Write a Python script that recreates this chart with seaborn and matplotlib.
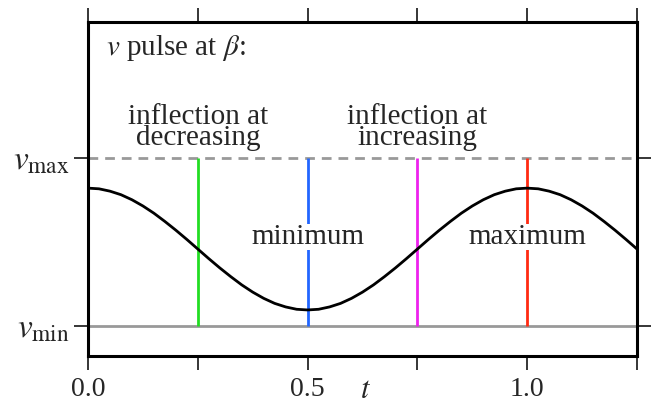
import matplotlib
matplotlib.use('Agg')
import matplotlib.pyplot as plt
import seaborn as sns
import pandas as pd

# curve (v between v_min=0 and v_max=1)
t_vals = [0.0, 0.025, 0.05, 0.075, 0.1, 0.125, 0.15, 0.175, 0.2, 0.225,
          0.25, 0.275, 0.3, 0.325, 0.35, 0.375, 0.4, 0.425, 0.45, 0.475,
          0.5, 0.525, 0.55, 0.575, 0.6, 0.625, 0.65, 0.675, 0.7, 0.725,
          0.75, 0.775, 0.8, 0.825, 0.85, 0.875, 0.9, 0.925, 0.95, 0.975,
          1.0, 1.025, 1.05, 1.075, 1.1, 1.125, 1.15, 1.175, 1.2, 1.225, 1.25]
v_vals = [0.820, 0.816, 0.802, 0.781, 0.751, 0.714, 0.671, 0.622, 0.570, 0.515,
          0.458, 0.401, 0.346, 0.294, 0.245, 0.202, 0.165, 0.135, 0.114, 0.100,
          0.096, 0.100, 0.114, 0.135, 0.165, 0.202, 0.245, 0.294, 0.346, 0.401,
          0.458, 0.515, 0.570, 0.622, 0.671, 0.714, 0.751, 0.781, 0.802, 0.816,
          0.820, 0.816, 0.802, 0.781, 0.751, 0.714, 0.671, 0.622, 0.570, 0.515, 0.458]

v_min = 0.0
v_max = 1.0

mark_t = [0.25, 0.5, 0.75, 1.0]
mark_labels = ['inflection at\ndecreasing', 'minimum',
               'inflection at\nincreasing', 'maximum']
mark_colors = ['#22dd22', '#2266ff', '#ee22ee', '#ff2a12']

x_major = [0.0, 0.5, 1.0]
x_major_labels = ['0.0', '0.5', '1.0']
x_minor = [0.25, 0.75, 1.25]
y_tick_labels = [r'$v_{\rm min}$', r'$v_{\rm max}$']

sns.set_theme(style='ticks')
plt.rcParams['font.family'] = ['Liberation Serif', 'DejaVu Serif']
plt.rcParams['mathtext.fontset'] = 'stix'

fig = plt.figure(figsize=(6.52, 4.07), dpi=100)
ax = fig.add_axes([0.135, 0.126, 0.842, 0.821])

data = pd.DataFrame({'t': t_vals, 'v': v_vals})

ax.axhline(v_min, color='#999999', lw=2.0, zorder=1)
ax.axhline(v_max, color='#999999', lw=2.0, ls=(0, (3.5, 2.5)), zorder=1)
ax.vlines(mark_t, v_min, v_max, colors=mark_colors, lw=2.0, zorder=2)

sns.lineplot(data=data, x='t', y='v', ax=ax, color='black', lw=2.0,
             zorder=4, sort=False)

label_y = [1.18, 0.53, 1.18, 0.53]
for xt, lab, yy in zip(mark_t, mark_labels, label_y):
    kw = {}
    if '\n' not in lab:
        kw['bbox'] = dict(boxstyle='square,pad=0', fc='white', ec='none')
    ax.text(xt, yy, lab, ha='center', va='center', fontsize=21,
            linespacing=0.78, zorder=3, **kw)

ax.text(0.033, 0.90, r'$v$ pulse at $\beta$:', transform=ax.transAxes,
        ha='left', va='baseline', fontsize=21)

ax.set_xlim(0, 1.25)
ax.set_ylim(-0.176, 1.81)

ax.set_xticks(x_major)
ax.set_xticklabels(x_major_labels)
ax.set_xticks(x_minor, minor=True)
ax.set_yticks([v_min, v_max])
ax.set_yticklabels(y_tick_labels)

ax.tick_params(which='both', direction='out', length=10, width=1.1,
               top=True, right=True, color='black')
ax.tick_params(axis='x', labelsize=20, pad=5)
ax.tick_params(axis='y', labelsize=24, pad=3)

for s in ax.spines.values():
    s.set_linewidth(2.2)
    s.set_color('black')

ax.set_xlabel(r'$t$', fontsize=22)
ax.set_ylabel('')
ax.xaxis.set_label_coords(0.505, -0.128)
ax.xaxis.label.set_va('baseline')

fig.savefig('out.png', dpi=100)
